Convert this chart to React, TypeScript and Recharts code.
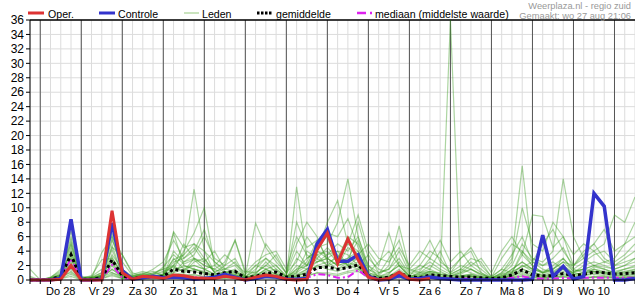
import { LineChart, Line, XAxis, YAxis, CartesianGrid, ReferenceLine } from "recharts";

// 6-hourly steps, step 0 = wo 27 18:00
const dayLabels = ["Do 28", "Vr 29", "Za 30", "Zo 31", "Ma 1", "Di 2", "Wo 3", "Do 4", "Vr 5", "Za 6", "Zo 7", "Ma 8", "Di 9", "Wo 10"];
const yTicks = [0, 2, 4, 6, 8, 10, 12, 14, 16, 18, 20, 22, 24, 26, 28, 30, 32, 34, 36];

const oper = [
  0, 0, 0, 0.1, 2.0, 0, 0, 0, 9.6, 1.0,
  0.1, 0.5, 0.4, 0.2, 0.7, 0.6, 0.3, 0.2, 0.2, 0.5,
  0.3, 0, 0.4, 0.7, 0.5, 0.1, 0, 0.1, 4.2, 6.5,
  2.3, 5.7, 2.8, 0.4, 0, 0.2, 1.1, 0.1, 0, 0.2,
];

const controle = [
  0, 0, 0, 0.2, 8.4, 0, 0, 0.1, 7.9, 1.3,
  0.1, 0.3, 0.5, 0.3, 0.4, 0.3, 0.1, 0.2, 0.4, 0.8,
  0.4, 0, 0.2, 0.5, 0.4, 0.1, 0.1, 0.2, 5.0, 7.0,
  2.6, 2.6, 3.5, 0.5, 0, 0.1, 0.6, 0.1, 0.2, 0.4,
  0.2, 0.1, 0, 0, 0, 0, 0, 0, 0, 0.1,
  6.2, 0.5, 1.9, 0.1, 0.5, 12.0, 10.2, 0, 0, 0.2,
];

const gemiddelde = [
  0, 0, 0.1, 0.5, 3.5, 0.1, 0.1, 0.3, 2.8, 0.6,
  0.2, 0.4, 0.5, 0.5, 1.5, 1.2, 1.1, 0.9, 0.7, 1.0,
  1.2, 0.3, 0.5, 0.9, 1.1, 0.4, 0.5, 0.8, 1.7, 1.8,
  1.5, 1.7, 2.1, 0.6, 0.2, 0.4, 0.9, 0.5, 0.3, 0.7,
  0.6, 0.5, 0.4, 0.4, 0.3, 0.2, 0.3, 0.7, 1.4, 0.7,
  0.6, 0.6, 0.9, 0.6, 0.8, 1.1, 1.0, 0.8, 0.9, 1.0,
];

const mediaan = [
  0, 0, 0, 0.2, 3.0, 0, 0, 0.1, 2.1, 0.3,
  0.1, 0.3, 0.3, 0.3, 0.4, 0.4, 0.4, 0.3, 0.3, 0.5,
  0.3, 0.1, 0.2, 0.4, 0.4, 0.1, 0.1, 0.3, 0.8, 0.7,
  0.3, 0.4, 1.4, 0.3, 0.1, 0.2, 0.4, 0.2, 0.1, 0.3,
  0.3, 0.2, 0.2, 0.2, 0.1, 0.1, 0.1, 0.3, 0.5, 0.2,
  0.2, 0.2, 0.3, 0.2, 0.3, 0.3, 0.3, 0.3, 0.3, 0.3,
];

// ensemble members, one row each
const leden = [
  [1.5, 0, 0.2, 0.8, 6.8, 0.2, 0, 0.4, 5.8, 1.2, 0.3, 0.5, 0.4, 0.8, 6.5, 2.0, 1.5, 1.0, 0.6, 1.2, 0.5, 0.2, 0.5, 1.5, 0.8, 0.3, 0.5, 1.0, 3.5, 4.0, 2.5, 3.0, 5.5, 0.8, 0.2, 0.4, 1.0, 0.3, 0.6, 1.2, 0.8, 0.4, 0.3, 0.5, 0.2, 0.1, 0.3, 0.8, 2.0, 1.2, 0.6, 0.8, 1.5, 1.0, 0.8, 1.5, 1.2, 0.9, 1.1, 1.4],
  [0, 0, 0.1, 0.3, 4.5, 0, 0.1, 0.6, 4.2, 0.8, 0.2, 0.6, 1.0, 1.5, 2.0, 3.5, 12.6, 4.0, 1.0, 0.5, 0.8, 0.1, 0.3, 0.6, 0.4, 0.2, 1.5, 2.0, 5.0, 6.0, 3.0, 2.0, 2.5, 0.5, 0.2, 0.3, 0.8, 0.2, 0.4, 0.6, 0.3, 0.2, 0.5, 0.8, 0.4, 0.2, 0.3, 0.6, 1.2, 0.8, 0.4, 0.6, 1.0, 0.5, 0.8, 1.2, 0.9, 0.7, 0.6, 0.8],
  [0.3, 0, 0, 0.5, 3.8, 0.1, 0.2, 0.3, 3.2, 0.6, 0.4, 0.8, 0.6, 0.5, 1.5, 4.0, 6.5, 10.0, 2.0, 1.0, 1.5, 0.3, 0.8, 2.5, 1.0, 0.4, 0.8, 1.5, 2.5, 3.5, 5.0, 4.0, 6.0, 1.5, 0.5, 0.8, 2.5, 0.5, 1.0, 2.0, 1.2, 0.5, 0.8, 1.5, 0.8, 0.2, 0.5, 1.0, 3.5, 2.0, 1.0, 1.5, 2.5, 1.2, 1.5, 2.0, 1.5, 1.0, 1.5, 2.0],
  [0, 0, 0.3, 1.0, 5.5, 0.3, 0.2, 0.8, 6.5, 0.5, 0.2, 0.4, 0.5, 0.6, 3.0, 1.5, 2.0, 1.5, 0.8, 0.5, 0.6, 0.2, 1.0, 2.0, 1.2, 0.5, 12.9, 3.0, 4.0, 3.0, 2.0, 2.5, 3.0, 0.6, 0.3, 0.5, 1.5, 0.4, 0.8, 1.0, 0.5, 0.3, 0.6, 0.5, 0.3, 0.2, 0.4, 1.5, 2.5, 1.5, 1.0, 1.2, 2.0, 0.8, 1.0, 1.5, 1.0, 0.8, 0.9, 1.2],
  [0, 0, 0.2, 0.4, 3.0, 0.1, 0.3, 1.0, 2.5, 0.4, 0.3, 0.5, 0.3, 0.4, 1.0, 2.5, 3.0, 2.0, 1.5, 0.8, 0.5, 0.2, 0.5, 1.0, 0.6, 0.2, 3.0, 2.0, 4.5, 5.0, 8.0, 14.0, 6.0, 2.0, 0.4, 0.5, 1.0, 0.2, 0.5, 0.8, 0.4, 0.3, 0.4, 0.6, 0.3, 0.1, 0.6, 1.0, 4.0, 2.0, 1.0, 1.5, 3.0, 1.5, 1.0, 1.8, 1.5, 1.0, 1.2, 1.5],
  [0, 0, 0.1, 0.5, 2.0, 0.2, 0.4, 0.5, 2.0, 0.3, 0.2, 0.3, 0.4, 0.5, 1.2, 2.0, 1.5, 1.0, 0.5, 1.0, 0.8, 0.2, 0.4, 0.8, 0.5, 0.3, 0.6, 1.0, 2.0, 2.5, 1.5, 2.0, 3.0, 0.5, 0.2, 0.3, 0.6, 0.3, 0.5, 0.8, 0.4, 36, 0.5, 0.6, 0.3, 0.2, 0.3, 0.5, 1.5, 1.0, 0.6, 0.8, 1.2, 0.8, 0.6, 1.0, 0.8, 0.6, 0.8, 1.0],
  [0, 0, 0.2, 0.6, 4.0, 0.2, 0.3, 0.4, 1.5, 0.6, 0.4, 0.6, 0.5, 0.8, 2.0, 1.0, 2.5, 3.0, 1.0, 0.6, 1.0, 0.3, 0.6, 1.5, 2.0, 0.4, 1.0, 4.0, 3.0, 4.5, 3.0, 5.0, 4.0, 1.0, 0.5, 1.0, 2.0, 0.4, 1.0, 1.5, 0.8, 0.5, 1.0, 2.0, 1.0, 0.3, 1.0, 3.0, 15.8, 3.0, 2.0, 2.5, 1.5, 1.0, 2.0, 2.5, 2.0, 1.5, 2.0, 3.0],
  [0.2, 0, 0.1, 0.3, 2.5, 0.1, 0.2, 0.7, 3.5, 1.5, 0.5, 0.7, 0.6, 0.7, 2.5, 3.0, 4.5, 2.5, 1.2, 1.5, 2.0, 0.4, 1.5, 3.0, 1.5, 0.5, 1.2, 2.5, 5.5, 3.0, 4.0, 3.5, 2.0, 3.5, 1.0, 1.5, 4.0, 1.0, 1.5, 2.5, 1.5, 0.8, 1.5, 1.0, 0.5, 0.3, 0.8, 2.0, 5.0, 3.0, 2.5, 4.0, 14.0, 6.0, 3.0, 2.0, 2.5, 2.0, 2.5, 3.0],
  [0, 0, 0.3, 0.7, 1.5, 0.3, 0.5, 1.5, 1.0, 0.5, 0.3, 0.4, 0.8, 1.2, 1.8, 1.2, 3.0, 2.0, 1.5, 2.5, 5.5, 0.8, 2.0, 1.5, 0.8, 0.3, 2.0, 1.5, 3.0, 2.0, 3.5, 2.0, 1.5, 1.0, 0.6, 2.0, 7.5, 1.5, 1.0, 1.2, 0.8, 0.5, 1.0, 1.5, 0.8, 0.3, 0.6, 1.5, 2.5, 1.5, 1.2, 1.5, 2.5, 2.0, 3.0, 4.0, 5.0, 9.0, 8.0, 11.5],
  [0, 0, 0.2, 0.8, 6.0, 0.1, 0.2, 3.8, 6.0, 3.5, 0.8, 1.2, 0.8, 1.0, 2.8, 3.5, 5.0, 4.0, 2.5, 1.2, 1.0, 0.6, 7.9, 4.5, 2.5, 1.0, 5.0, 8.0, 6.0, 2.5, 3.0, 6.0, 5.0, 2.0, 1.0, 1.5, 3.0, 0.8, 1.2, 3.0, 2.0, 1.0, 2.0, 1.5, 0.6, 0.4, 1.5, 1.0, 2.0, 1.5, 1.0, 2.0, 3.0, 1.2, 1.5, 2.0, 1.8, 1.5, 2.0, 2.5],
  [0, 0, 0.1, 0.4, 5.0, 0.2, 0.1, 0.5, 4.8, 0.7, 0.5, 0.9, 1.2, 0.6, 4.0, 2.5, 3.5, 6.0, 3.0, 2.0, 3.0, 0.5, 1.2, 5.0, 3.0, 1.0, 2.5, 6.0, 4.0, 8.0, 11.0, 5.0, 9.0, 4.0, 2.0, 6.5, 2.0, 1.5, 3.0, 5.5, 2.5, 1.5, 3.0, 4.5, 2.0, 0.5, 1.5, 3.5, 6.0, 2.5, 5.0, 7.0, 4.0, 2.0, 3.5, 5.0, 3.0, 2.0, 3.0, 4.0],
  [0.5, 0, 0.4, 1.2, 3.5, 0.5, 0.3, 0.6, 2.8, 0.9, 0.6, 1.0, 0.7, 1.8, 3.5, 2.2, 2.8, 1.5, 2.0, 3.5, 2.2, 1.0, 2.5, 3.5, 4.0, 1.5, 6.0, 3.5, 2.5, 3.0, 2.0, 4.5, 3.5, 5.0, 3.0, 2.5, 4.5, 2.0, 4.0, 3.0, 5.5, 2.5, 4.0, 2.0, 3.0, 1.0, 4.0, 6.0, 3.5, 9.0, 8.8, 4.5, 6.0, 3.5, 5.0, 4.0, 2.5, 3.0, 5.0, 6.0],
  [0, 0, 0.2, 0.5, 1.0, 0.1, 0.2, 0.3, 1.5, 0.4, 0.2, 0.3, 0.3, 0.5, 0.8, 1.0, 1.5, 1.2, 0.6, 0.4, 0.5, 0.1, 0.3, 0.5, 0.4, 0.2, 0.5, 1.2, 2.0, 1.5, 1.2, 1.8, 2.0, 0.4, 0.1, 0.2, 0.5, 0.2, 0.3, 0.4, 0.2, 0.1, 0.2, 0.3, 0.1, 0.1, 0.2, 0.4, 0.8, 0.5, 0.3, 0.4, 0.6, 0.4, 0.3, 0.5, 0.5, 0.4, 0.4, 0.6],
  [0, 0.1, 0.3, 1.5, 5.0, 0.1, 0.4, 1.0, 5.5, 2.5, 0.6, 0.8, 1.5, 2.5, 5.5, 3.0, 4.0, 7.0, 2.5, 1.5, 2.5, 0.4, 2.0, 3.0, 2.0, 0.6, 8.0, 4.5, 5.5, 6.5, 6.0, 8.5, 4.5, 1.5, 0.8, 3.0, 5.5, 1.2, 2.0, 4.0, 3.0, 1.0, 3.0, 4.0, 1.0, 0.2, 1.0, 2.5, 10.0, 5.0, 4.0, 8.0, 6.0, 2.0, 4.0, 5.0, 7.0, 4.0, 5.0, 8.0],
  [0, 0, 0.1, 0.2, 0.8, 0, 0.1, 0.2, 0.6, 0.2, 0.1, 0.2, 0.2, 0.3, 0.5, 0.8, 0.6, 0.5, 0.3, 0.2, 0.3, 0.1, 0.2, 0.3, 0.2, 0.1, 0.3, 0.6, 1.0, 0.8, 0.6, 1.0, 1.2, 0.3, 0.1, 0.1, 0.3, 0.1, 0.2, 0.3, 0.1, 0.1, 0.1, 0.2, 0.1, 0, 0.1, 0.3, 0.5, 0.3, 0.2, 0.3, 0.4, 0.3, 0.2, 0.4, 0.3, 0.3, 0.3, 0.4],
  [0, 0, 0.3, 0.6, 2.2, 0.2, 0.6, 2.8, 3.0, 1.0, 0.4, 0.6, 0.9, 1.5, 6.7, 4.5, 5.0, 3.0, 1.0, 2.0, 5.5, 1.2, 1.0, 2.0, 3.5, 0.8, 4.0, 2.0, 3.5, 2.0, 2.5, 3.0, 4.0, 1.0, 2.5, 4.0, 2.0, 0.6, 2.0, 1.5, 4.0, 0.8, 1.5, 3.0, 2.5, 0.4, 3.0, 5.0, 4.0, 2.5, 2.0, 3.0, 4.5, 1.5, 2.5, 3.5, 4.0, 2.5, 3.5, 5.0],
  [0, 0, 0.2, 0.3, 1.2, 0.1, 0.2, 0.4, 1.0, 0.3, 0.3, 0.4, 0.4, 0.4, 1.0, 1.5, 1.2, 0.8, 0.5, 0.6, 0.7, 0.2, 0.4, 0.8, 0.6, 0.2, 0.6, 1.5, 1.8, 2.0, 1.5, 2.5, 1.8, 0.5, 0.2, 0.4, 0.8, 0.3, 0.4, 0.6, 0.3, 0.2, 0.4, 0.5, 0.2, 0.1, 0.3, 0.6, 1.0, 0.6, 0.5, 0.6, 0.8, 0.5, 0.6, 0.8, 0.6, 0.5, 0.6, 0.8],
  [0, 0, 0.1, 0.4, 2.8, 0.1, 0.2, 0.5, 4.5, 3.5, 1.0, 0.5, 0.6, 0.8, 2.0, 5.0, 3.0, 2.5, 4.0, 1.5, 1.2, 0.3, 0.8, 1.2, 1.5, 0.4, 1.5, 3.0, 4.0, 3.5, 4.0, 2.0, 8.0, 3.0, 1.5, 1.0, 2.0, 0.5, 0.8, 1.2, 1.0, 0.6, 1.2, 2.5, 1.5, 0.3, 0.8, 1.2, 1.8, 2.5, 1.5, 1.0, 2.0, 1.0, 1.5, 1.2, 1.0, 1.2, 1.5, 1.8],
  [0, 0, 0.2, 0.5, 3.2, 0.2, 0.3, 0.6, 2.2, 0.6, 0.3, 0.5, 0.5, 0.6, 1.5, 1.8, 2.0, 1.5, 0.8, 1.0, 1.2, 0.3, 0.6, 1.0, 0.8, 0.3, 1.0, 2.0, 2.5, 3.0, 2.0, 2.5, 3.5, 0.8, 0.4, 0.6, 1.2, 0.4, 0.6, 1.0, 0.6, 0.3, 0.6, 0.8, 0.4, 0.2, 0.4, 0.8, 1.5, 1.0, 0.8, 1.0, 1.5, 0.8, 1.0, 1.2, 1.0, 0.8, 1.0, 1.2],
  [0, 0, 0.1, 0.2, 0.5, 0, 0.1, 0.2, 0.8, 0.2, 0.1, 0.2, 0.2, 0.2, 0.6, 0.5, 0.8, 0.4, 0.3, 0.3, 0.4, 0.1, 0.2, 0.4, 0.3, 0.1, 0.3, 0.5, 1.0, 1.0, 0.8, 1.2, 1.5, 0.3, 0.1, 0.2, 0.4, 0.1, 0.2, 0.3, 0.1, 0.1, 0.2, 0.2, 0.1, 0, 0.1, 0.3, 0.6, 0.4, 0.3, 0.4, 0.5, 0.3, 0.3, 0.4, 0.4, 0.3, 0.4, 0.5],
];

const steps = controle.map((_, i) => i);
const dayStarts = dayLabels.map((_, d) => 1 + d * 4).concat([57]);

const RED = "#dd3333";
const BLUE = "#3434cc";
const GREEN = "#3a9a1e";
const MAGENTA = "#dd22ee";
const FONT = "'Liberation Sans', Arial, sans-serif";

const data = steps.map((i) => {
  const row: Record<string, number | null> = {
    i,
    oper: i < oper.length ? oper[i] : null,
    controle: controle[i],
    gemiddelde: gemiddelde[i],
    mediaan: mediaan[i],
  };
  leden.forEach((lid, k) => {
    row["lid" + k] = lid[i];
  });
  return row;
});

const dayTick = (v: number) => ((v - 3) % 4 === 0 ? dayLabels[(v - 3) / 4] ?? "" : "");

function LegendBar() {
  const txt = { fontSize: 10.6, fontFamily: FONT, fill: "#000" };
  return (
    <svg width={635} height={22} style={{ position: "absolute", left: 0, top: 0 }}>
      <line x1={28} x2={44} y1={13} y2={13} stroke={RED} strokeWidth={3} />
      <text x={48} y={18} {...txt}>Oper.</text>
      <line x1={99} x2={115} y1={13} y2={13} stroke={BLUE} strokeWidth={3} />
      <text x={118} y={18} {...txt}>Controle</text>
      <line x1={184} x2={199} y1={13} y2={13} stroke="#b8dba8" strokeWidth={1.5} />
      <text x={202} y={18} {...txt}>Leden</text>
      <line x1={257} x2={272} y1={13} y2={13} stroke="#000" strokeWidth={3} strokeDasharray="2.5 1.5" />
      <text x={276} y={18} {...txt}>gemiddelde</text>
      <line x1={357} x2={366} y1={13} y2={13} stroke={MAGENTA} strokeWidth={2.5} />
      <line x1={370} x2={372} y1={13} y2={13} stroke={MAGENTA} strokeWidth={2.5} />
      <text x={375} y={18} {...txt}>mediaan (middelste waarde)</text>
      <text x={631} y={9} textAnchor="end" fontSize={9.3} fontFamily={FONT} fill="#999">Weerplaza.nl - regio zuid</text>
      <text x={631} y={19} textAnchor="end" fontSize={9.3} fontFamily={FONT} fill="#999">Gemaakt: wo 27 aug 21:06</text>
    </svg>
  );
}

export default function App() {
  return (
    <div style={{ position: "absolute", left: 0, top: 0, width: 635, height: 300, background: "#fff" }}>
      <LineChart width={635} height={300} data={data} margin={{ top: 20, right: 0, bottom: 0, left: 0 }}>
        <CartesianGrid stroke="#dcdcdc" />
        {dayStarts.map((d) => (
          <ReferenceLine key={d} x={d} stroke="#555" strokeWidth={1} />
        ))}
        <ReferenceLine y={36} stroke="#000" strokeWidth={1.5} />
        <XAxis
          dataKey="i"
          type="number"
          domain={[0, 59]}
          ticks={steps}
          interval={0}
          tickFormatter={dayTick}
          height={20}
          tickSize={4}
          tickMargin={3}
          stroke="#000"
          tick={{ fill: "#000", fontSize: 11, fontFamily: FONT }}
        />
        <YAxis
          type="number"
          domain={[0, 36]}
          ticks={yTicks}
          interval={0}
          width={30}
          tickSize={4}
          tickMargin={2}
          stroke="#000"
          tick={{ fill: "#000", fontSize: 12, fontFamily: FONT }}
        />
        {leden.map((_, k) => (
          <Line
            key={k}
            dataKey={"lid" + k}
            type="linear"
            stroke={GREEN}
            strokeOpacity={0.42}
            strokeWidth={1.2}
            dot={false}
            isAnimationActive={false}
          />
        ))}
        <Line dataKey="mediaan" type="linear" stroke={MAGENTA} strokeWidth={2} strokeDasharray="7 3 2 3" dot={false} isAnimationActive={false} />
        <Line dataKey="gemiddelde" type="linear" stroke="#000" strokeWidth={3} strokeDasharray="3 3" dot={false} isAnimationActive={false} />
        <Line dataKey="controle" type="linear" stroke={BLUE} strokeWidth={3.5} dot={false} isAnimationActive={false} />
        <Line dataKey="oper" type="linear" stroke={RED} strokeWidth={3} dot={false} isAnimationActive={false} />
      </LineChart>
      <LegendBar />
    </div>
  );
}
